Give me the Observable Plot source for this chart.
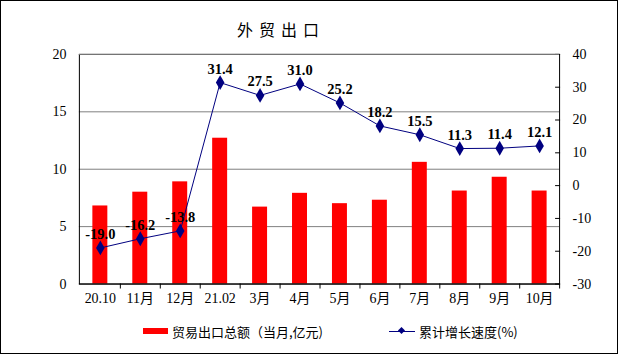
<!DOCTYPE html>
<html>
<head>
<meta charset="utf-8">
<script src="https://cdn.jsdelivr.net/npm/d3@7"></script>
<script src="https://cdn.jsdelivr.net/npm/@observablehq/plot@0.6"></script>
<style>
  html, body { margin: 0; padding: 0; background: #fff; }
  #wrap { position: relative; width: 616px; height: 352px; border: 1px solid #000; overflow: hidden; background: #fff; }
  #title { position: absolute; left: 0; top: 16px; width: 560px; text-align: center; font-family: "Noto Sans CJK SC", sans-serif; font-size: 16px; letter-spacing: 6px; color: #000; }
  #chart { position: absolute; left: -1px; top: -1px; }
  #legend { position: absolute; top: 318px; left: 0; width: 616px; height: 24px; font-family: "Noto Sans CJK SC", sans-serif; font-size: 13px; color: #000; }
  .item { position: absolute; top: 0; display: flex; align-items: center; height: 24px; }
  .sw-bar { width: 25px; height: 6px; background: #ff0000; margin-right: 4px; }
  .sw-line { position: relative; width: 26px; height: 1px; background: #000080; margin-right: 4px; }
  .sw-line::after { content: ""; position: absolute; left: 10px; top: -3px; width: 5px; height: 5px; background: #000080; transform: rotate(45deg); }
</style>
</head>
<body>
<div id="wrap">
  <div id="title">外贸出口</div>
  <div id="chart"></div>
  <div id="legend">
    <div class="item" style="left:142px"><div class="sw-bar"></div><span>贸易出口总额（当月,亿元)</span></div>
    <div class="item" style="left:388px"><div class="sw-line"></div><span>累计增长速度(%)</span></div>
  </div>
</div>
<script>
const months = ["20.10", "11月", "12月", "21.02", "3月", "4月", "5月", "6月", "7月", "8月", "9月", "10月"];
const exportValue = [6.8, 8.0, 8.9, 12.7, 6.7, 7.9, 7.0, 7.3, 10.6, 8.1, 9.3, 8.1];
const growthRate = [-19.0, -16.2, -13.8, 31.4, 27.5, 31.0, 25.2, 18.2, 15.5, 11.3, 11.4, 12.1];
const leftTicks = [0, 5, 10, 15, 20];
const rightTicks = [-30, -20, -10, 0, 10, 20, 30, 40];

const leftDomain = [0, 20];
const rightDomain = [-30, 40];
const toLeft = v => leftDomain[0] + (v - rightDomain[0]) / (rightDomain[1] - rightDomain[0]) * (leftDomain[1] - leftDomain[0]);
const toRight = v => rightDomain[0] + (v - leftDomain[0]) / (leftDomain[1] - leftDomain[0]) * (rightDomain[1] - rightDomain[0]);

const data = months.map((m, i) => ({month: m, value: exportValue[i], rate: growthRate[i], rateY: toLeft(growthRate[i])}));

const W = 618, H = 311, mL = 79, mR = 58, mT = 54, mB = 27;
const half = (W - mL - mR) / months.length / 2;
const serif = "'Liberation Serif', 'Times New Roman', 'Noto Sans CJK SC', serif";

const chart = Plot.plot({
  width: W, height: H,
  marginLeft: mL, marginRight: mR, marginTop: mT, marginBottom: mB,
  style: {fontFamily: serif, fontSize: "14px", color: "#000", background: "transparent"},
  x: {domain: months, padding: 0, label: null},
  y: {domain: leftDomain, label: null},
  marks: [
    Plot.ruleY(leftTicks.filter(d => d > 0), {stroke: "#808080", strokeOpacity: 1}),
    Plot.barY(data, {x: "month", y: "value", fill: "#ff0000", insetLeft: 12.5, insetRight: 12.5}),
    Plot.line(data, {x: "month", y: "rateY", stroke: "#000080", strokeWidth: 1}),
    Plot.dot(data, {x: "month", y: "rateY", symbol: "diamond", r: 4.5, fill: "#000080", stroke: null}),
    Plot.text(data, {x: "month", y: "rateY", text: d => d.rate.toFixed(1), dy: -9, lineAnchor: "bottom", fontWeight: "bold", fontSize: 14.5, fill: "#000"}),
    Plot.axisY({ticks: leftTicks, tickSize: 0, tickPadding: 13, fontSize: 14}),
    Plot.axisY({anchor: "right", ticks: rightTicks.map(toLeft), tickFormat: d => String(Math.round(toRight(d))), tickSize: -5, tickPadding: 18, fontSize: 14}),
    Plot.axisX({tickSize: 0, tickPadding: 9, fontSize: 14}),
    Plot.axisX({tickSize: 5, text: null, dx: half}),
    Plot.ruleY([0], {stroke: "#000"}),
    Plot.frame({stroke: "#000"}),
    Plot.ruleY([20], {stroke: "#808080"})
  ]
});
document.getElementById("chart").appendChild(chart);
</script>
</body>
</html>
